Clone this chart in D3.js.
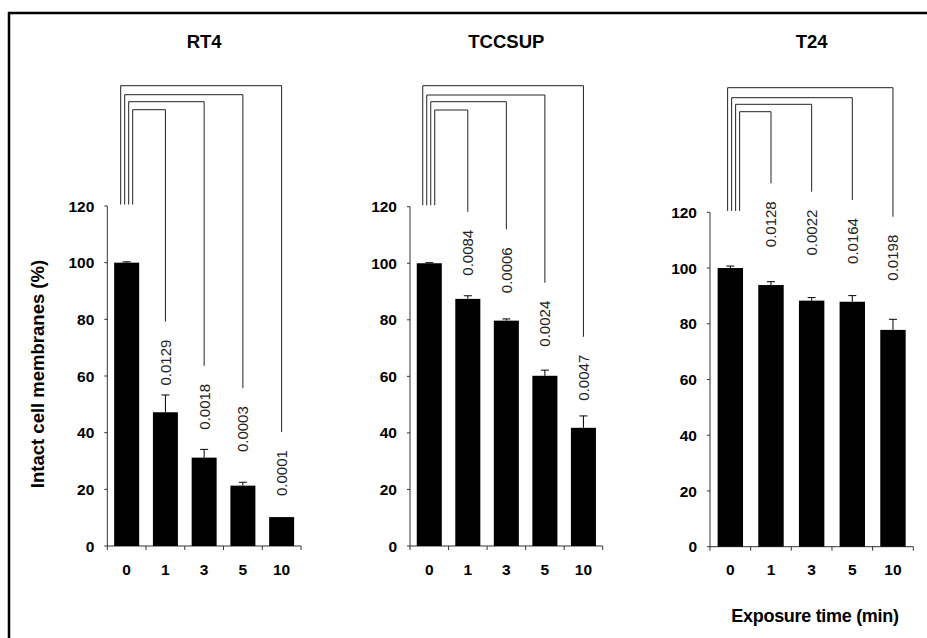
<!DOCTYPE html>
<html>
<head>
<meta charset="utf-8">
<script src="https://cdn.jsdelivr.net/npm/d3@7"></script>
<style>
  body { margin: 0; background: #fff; }
  text { font-family: "Liberation Sans", Arial, sans-serif; }
</style>
</head>
<body>
<div id="vis"></div>
<script>
/*
Data
*/

const times = ["0", "1", "3", "5", "10"];
const yTicks = [0, 20, 40, 60, 80, 100, 120];
const cellLines = ["RT4", "TCCSUP", "T24"];

const rt4Mean = [100, 47.2, 31.2, 21.3, 10.2];
const rt4Err = [0.3, 6.1, 2.9, 1.2, 0];
const rt4P = ["0.0129", "0.0018", "0.0003", "0.0001"];

const tccsupMean = [100, 87.4, 79.7, 60.2, 41.8];
const tccsupErr = [0.2, 1.1, 0.6, 2.0, 4.2];
const tccsupP = ["0.0084", "0.0006", "0.0024", "0.0047"];

const t24Mean = [100, 93.9, 88.3, 87.9, 77.8];
const t24Err = [0.7, 1.2, 1.1, 2.2, 3.8];
const t24P = ["0.0128", "0.0022", "0.0164", "0.0198"];

// where the right leg of each comparison bracket stops (in % units)
const rt4LegEnd = [79.2, 63.6, 55.7, 40.2];
const tccsupLegEnd = [118.2, 112.0, 93.1, 74.0];
const t24LegEnd = [130.4, 127.4, 124.4, 118.4];

/*
Layout
*/

const WIDTH = 927;
const HEIGHT = 638;

const panels = [
  {name: cellLines[0], mean: rt4Mean, err: rt4Err, p: rt4P, legEnd: rt4LegEnd,
   x: [107.3, 301], y: [546, 206], pad: 0.355, legStart: 6.5, levels: [109.7, 101.7, 94.7, 85.7]},
  {name: cellLines[1], mean: tccsupMean, err: tccsupErr, p: tccsupP, legEnd: tccsupLegEnd,
   x: [410, 602.7], y: [546, 206.7], pad: 0.35, legStart: 6, levels: [110, 101.7, 95, 85.7]},
  {name: cellLines[2], mean: t24Mean, err: t24Err, p: t24P, legEnd: t24LegEnd,
   x: [710, 913.3], y: [546.7, 212.3], pad: 0.375, legStart: 10, levels: [111.7, 104.3, 97.7, 87.7]}
];

const svg = d3.select("#vis")
              .append("svg")
              .attr("width", WIDTH)
              .attr("height", HEIGHT);

// outer frame (runs off the right and bottom of the picture)
svg.append("rect")
   .attr("x", 9)
   .attr("y", 13)
   .attr("width", 1000)
   .attr("height", 1000)
   .attr("fill", "none")
   .attr("stroke", "#000")
   .attr("stroke-width", 2.5);

/*
Panels
*/

panels.forEach(panel => {
  const g = svg.append("g");

  const x = d3.scaleBand()
              .domain(times)
              .range(panel.x)
              .paddingInner(panel.pad)
              .paddingOuter(panel.pad / 2);

  const y = d3.scaleLinear()
              .domain([0, 120])
              .range(panel.y);

  const step = x.step();
  const cx = d => x(d) + x.bandwidth() / 2;

  // y axis
  g.append("line")
   .attr("x1", panel.x[0]).attr("x2", panel.x[0])
   .attr("y1", y(0)).attr("y2", y(120))
   .attr("stroke", "#333");

  g.selectAll("line.ytick")
   .data(yTicks)
   .enter()
   .append("line")
   .attr("x1", panel.x[0] - 3).attr("x2", panel.x[0])
   .attr("y1", d => y(d)).attr("y2", d => y(d))
   .attr("stroke", "#333");

  g.selectAll("text.ylab")
   .data(yTicks)
   .enter()
   .append("text")
   .attr("x", panel.x[0] - 13)
   .attr("y", d => y(d))
   .attr("dy", "0.36em")
   .attr("text-anchor", "end")
   .style("font-size", "15.5px")
   .style("font-weight", "bold")
   .text(d => d);

  // x axis with ticks between the bars
  g.append("line")
   .attr("x1", panel.x[0]).attr("x2", panel.x[1])
   .attr("y1", y(0)).attr("y2", y(0))
   .attr("stroke", "#333");

  g.selectAll("line.xtick")
   .data(d3.range(times.length + 1))
   .enter()
   .append("line")
   .attr("x1", i => panel.x[0] + i * step).attr("x2", i => panel.x[0] + i * step)
   .attr("y1", y(0)).attr("y2", y(0) + 4)
   .attr("stroke", "#333");

  g.selectAll("text.xlab")
   .data(times)
   .enter()
   .append("text")
   .attr("x", cx)
   .attr("y", 575)
   .attr("text-anchor", "middle")
   .style("font-size", "15.5px")
   .style("font-weight", "bold")
   .text(d => d);

  // bars
  g.selectAll("rect.bar")
   .data(times)
   .enter()
   .append("rect")
   .attr("x", d => x(d))
   .attr("width", x.bandwidth())
   .attr("y", (d, i) => y(panel.mean[i]))
   .attr("height", (d, i) => y(0) - y(panel.mean[i]))
   .attr("fill", "#000");

  // error bars (upper half only)
  times.forEach((t, i) => {
    if (panel.err[i] <= 0) return;
    const top = y(panel.mean[i] + panel.err[i]);
    g.append("line")
     .attr("x1", cx(t)).attr("x2", cx(t))
     .attr("y1", y(panel.mean[i])).attr("y2", top)
     .attr("stroke", "#000");
    g.append("line")
     .attr("x1", cx(t) - 4).attr("x2", cx(t) + 4)
     .attr("y1", top).attr("y2", top)
     .attr("stroke", "#000");
  });

  // comparison brackets from bar 0 to each later bar
  const others = times.slice(1);
  others.forEach((t, i) => {
    const k = others.length - 1 - i;          // outermost bracket starts leftmost
    const lx = x(times[0]) + panel.legStart + k * 4;
    const rx = cx(t);
    const top = panel.levels[i];
    g.append("path")
     .attr("d", `M${lx},${y(120.5)}V${top}H${rx}V${y(panel.legEnd[i])}`)
     .attr("fill", "none")
     .attr("stroke", "#222")
     .attr("stroke-width", 1);

    g.append("text")
     .attr("transform", `translate(${rx},${y(panel.legEnd[i]) + 18}) rotate(-90)`)
     .attr("dy", "0.36em")
     .attr("text-anchor", "end")
     .style("font-size", "15px")
     .attr("fill", "#222")
     .text(panel.p[i]);
  });

  // title
  g.append("text")
   .attr("x", (panel.x[0] + panel.x[1]) / 2)
   .attr("y", 48)
   .attr("text-anchor", "middle")
   .style("font-size", "18.5px")
   .style("font-weight", "bold")
   .text(panel.name);
});

// axis titles
svg.append("text")
   .attr("transform", "translate(44,374) rotate(-90)")
   .attr("text-anchor", "middle")
   .style("font-size", "18.5px")
   .style("font-weight", "bold")
   .text("Intact cell membranes (%)");

svg.append("text")
   .attr("x", 815)
   .attr("y", 622)
   .attr("text-anchor", "middle")
   .style("font-size", "18px")
   .style("font-weight", "bold")
   .style("letter-spacing", "-0.3px")
   .text("Exposure time (min)");
</script>
</body>
</html>
